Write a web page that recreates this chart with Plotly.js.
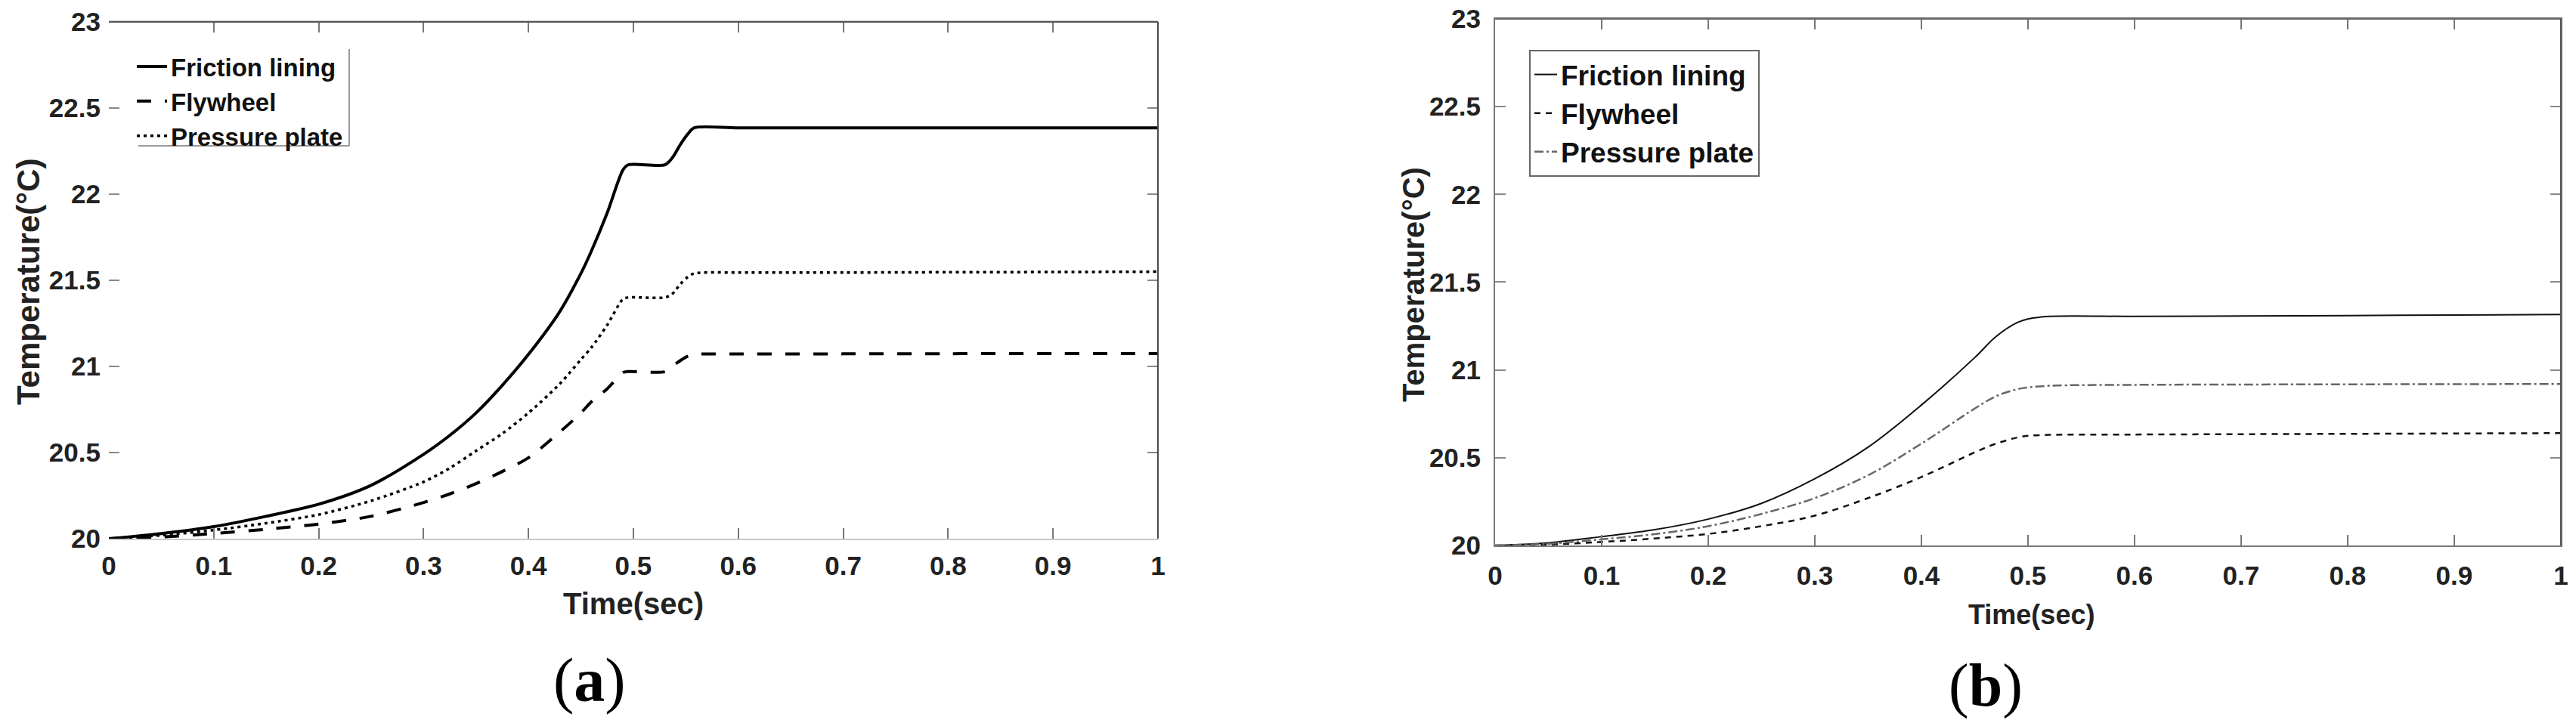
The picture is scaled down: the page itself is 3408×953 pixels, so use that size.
<!DOCTYPE html>
<html>
<head>
<meta charset="utf-8">
<script src="https://cdn.plot.ly/plotly-3.0.1.min.js"></script>
<style>
  html, body { margin: 0; padding: 0; background: #fff; }
  #myDiv { width: 3408px; height: 953px; }
</style>
</head>
<body>
<div id="myDiv"></div>
<script>
// (a) readings
var timeA = [0, 0.05, 0.1, 0.15, 0.2, 0.25, 0.3, 0.325, 0.35, 0.375, 0.4, 0.43, 0.45, 0.46, 0.475, 0.49, 0.495, 0.53, 0.537, 0.545, 0.552, 0.558, 0.6, 0.7, 0.8, 0.9, 1.0];
var frictionA = [20.00, 20.03, 20.07, 20.13, 20.20, 20.31, 20.49, 20.60, 20.73, 20.89, 21.07, 21.32, 21.54, 21.67, 21.89, 22.14, 22.17, 22.17, 22.21, 22.29, 22.35, 22.385, 22.385, 22.385, 22.385, 22.385, 22.385];
var flywheelA = [20.00, 20.01, 20.03, 20.055, 20.085, 20.13, 20.21, 20.26, 20.32, 20.39, 20.47, 20.62, 20.73, 20.795, 20.87, 20.965, 20.97, 20.97, 21.00, 21.035, 21.06, 21.07, 21.072, 21.073, 21.074, 21.075, 21.075];
var pressureA = [20.00, 20.02, 20.05, 20.09, 20.14, 20.22, 20.33, 20.41, 20.51, 20.61, 20.73, 20.90, 21.04, 21.11, 21.24, 21.39, 21.40, 21.40, 21.42, 21.48, 21.52, 21.54, 21.545, 21.545, 21.547, 21.548, 21.55];

// (b) readings
var timeB = [0, 0.05, 0.1, 0.15, 0.2, 0.25, 0.3, 0.35, 0.4, 0.45, 0.47, 0.49, 0.5, 0.52, 0.6, 0.7, 0.8, 0.9, 1.0];
var frictionB = [20.00, 20.015, 20.05, 20.09, 20.15, 20.24, 20.38, 20.56, 20.80, 21.07, 21.19, 21.27, 21.29, 21.305, 21.305, 21.307, 21.31, 21.313, 21.316];
var flywheelB = [20.00, 20.005, 20.02, 20.04, 20.066, 20.11, 20.17, 20.27, 20.39, 20.53, 20.58, 20.615, 20.625, 20.63, 20.632, 20.634, 20.636, 20.638, 20.64];
var pressureB = [20.00, 20.01, 20.035, 20.065, 20.11, 20.18, 20.27, 20.40, 20.58, 20.78, 20.85, 20.89, 20.90, 20.91, 20.915, 20.917, 20.918, 20.919, 20.92];

var names = ['Friction lining', 'Flywheel', 'Pressure plate'];
var xTicks = [0, 0.1, 0.2, 0.3, 0.4, 0.5, 0.6, 0.7, 0.8, 0.9, 1];
var yTicks = [20, 20.5, 21, 21.5, 22, 22.5, 23];

var font = 'Liberation Sans, Arial, sans-serif';

var data = [
  {x: timeA, y: frictionA, name: names[0], type: 'scatter', mode: 'lines',
   line: {color: '#000', width: 4, shape: 'spline', smoothing: 0.8}, xaxis: 'x', yaxis: 'y', legend: 'legend'},
  {x: timeA, y: flywheelA, name: names[1], type: 'scatter', mode: 'lines',
   line: {color: '#000', width: 4, dash: '19px,18px', shape: 'spline', smoothing: 0.8}, xaxis: 'x', yaxis: 'y', legend: 'legend'},
  {x: timeA, y: pressureA, name: names[2], type: 'scatter', mode: 'lines',
   line: {color: '#000', width: 3.5, dash: '4px,5px', shape: 'spline', smoothing: 0.8}, xaxis: 'x', yaxis: 'y', legend: 'legend'},
  {x: timeB, y: frictionB, name: names[0], type: 'scatter', mode: 'lines',
   line: {color: '#111', width: 2, shape: 'spline', smoothing: 1}, xaxis: 'x2', yaxis: 'y2', legend: 'legend2'},
  {x: timeB, y: flywheelB, name: names[1], type: 'scatter', mode: 'lines',
   line: {color: '#111', width: 2.5, dash: '8px,7px', shape: 'spline', smoothing: 1}, xaxis: 'x2', yaxis: 'y2', legend: 'legend2'},
  {x: timeB, y: pressureB, name: names[2], type: 'scatter', mode: 'lines',
   line: {color: '#666', width: 2.5, dash: '12px,4px,3px,4px', shape: 'spline', smoothing: 1}, xaxis: 'x2', yaxis: 'y2', legend: 'legend2'}
];

function xAxis(domain, anchor, lineColor, standoff) {
  return {
    domain: domain, anchor: anchor, range: [0, 1], tickvals: xTicks,
    showline: true, linecolor: lineColor, linewidth: 2, mirror: 'ticks',
    ticks: 'inside', ticklen: 14, tickwidth: 2, tickcolor: '#777',
    ticklabelstandoff: standoff, zeroline: false, showgrid: false, fixedrange: true,
    tickfont: {family: font, size: 35, color: '#222', weight: 'bold'}
  };
}
function yAxis(domain, anchor, showLine) {
  return {
    domain: domain, anchor: anchor, range: [20, 23], tickvals: yTicks,
    showline: showLine, linecolor: '#777', linewidth: 2, mirror: 'ticks',
    ticks: 'inside', ticklen: 14, tickwidth: 2, tickcolor: '#888',
    ticklabelstandoff: 10, zeroline: false, showgrid: false, fixedrange: true,
    tickfont: {family: font, size: 35, color: '#222', weight: 'bold'}
  };
}

var layout = {
  width: 3408, height: 953,
  margin: {l: 0, r: 0, t: 0, b: 0},
  paper_bgcolor: '#fff', plot_bgcolor: '#fff',
  showlegend: true,
  xaxis: xAxis([0.04225, 0.4495], 'y', '#c8c8c8', 4),
  yaxis: yAxis([0.2518, 0.9696], 'x', false),
  xaxis2: xAxis([0.5804, 0.9941], 'y2', '#777', 8),
  yaxis2: yAxis([0.2424, 0.9738], 'x2', true),
  legend: {
    x: 176 / 3408, y: 1 - 60 / 953, xanchor: 'left', yanchor: 'top',
    bgcolor: 'rgba(255,255,255,0)', borderwidth: 0, itemwidth: 40,
    font: {family: font, size: 33, color: '#111', weight: 'bold'}
  },
  legend2: {
    x: 2023 / 3408, y: 1 - 66 / 953, xanchor: 'left', yanchor: 'top',
    bgcolor: '#fff', bordercolor: '#666', borderwidth: 2, itemwidth: 30,
    font: {family: font, size: 37, color: '#111', weight: 'bold'}
  },
  shapes: [
    // (a) box: dark top and right edges, left edge not drawn
    {type: 'line', xref: 'x domain', yref: 'y domain', x0: 0, x1: 1, y0: 1, y1: 1, line: {color: '#555', width: 2}},
    {type: 'line', xref: 'x domain', yref: 'y domain', x0: 1, x1: 1, y0: 0, y1: 1, line: {color: '#444', width: 2}},
    // (a) legend frame, only right and bottom edges visible
    {type: 'line', xref: 'paper', yref: 'paper', x0: 462 / 3408, x1: 462 / 3408, y0: 1 - 65 / 953, y1: 1 - 193 / 953, line: {color: '#999', width: 2}},
    {type: 'line', xref: 'paper', yref: 'paper', x0: 183 / 3408, x1: 462 / 3408, y0: 1 - 193 / 953, y1: 1 - 193 / 953, line: {color: '#999', width: 2}},
    // (b) box
    {type: 'line', xref: 'x2 domain', yref: 'y2 domain', x0: 0, x1: 1, y0: 1, y1: 1, line: {color: '#666', width: 2}},
    {type: 'line', xref: 'x2 domain', yref: 'y2 domain', x0: 1, x1: 1, y0: 0, y1: 1, line: {color: '#555', width: 2}}
  ],
  annotations: [
    {text: 'Time(sec)', xref: 'paper', yref: 'paper', x: 838 / 3408, y: 1 - 799 / 953, xanchor: 'center', yanchor: 'middle', showarrow: false,
     font: {family: font, size: 40, color: '#222', weight: 'bold'}},
    {text: 'Time(sec)', xref: 'paper', yref: 'paper', x: 2687 / 3408, y: 1 - 813 / 953, xanchor: 'center', yanchor: 'middle', showarrow: false,
     font: {family: font, size: 36, color: '#222', weight: 'bold'}},
    {text: 'Temperature(°C)', xref: 'paper', yref: 'paper', x: 37 / 3408, y: 1 - 373 / 953, xanchor: 'center', yanchor: 'middle', showarrow: false, textangle: -90,
     font: {family: font, size: 42, color: '#222', weight: 'bold'}},
    {text: 'Temperature(°C)', xref: 'paper', yref: 'paper', x: 1870 / 3408, y: 1 - 376 / 953, xanchor: 'center', yanchor: 'middle', showarrow: false, textangle: -90,
     font: {family: font, size: 40, color: '#222', weight: 'bold'}},
    {text: '(<b>a</b>)', xref: 'paper', yref: 'paper', x: 780 / 3408, y: 1 - 900 / 953, xanchor: 'center', yanchor: 'middle', showarrow: false,
     font: {family: 'Liberation Serif, Times New Roman, serif', size: 82, color: '#000'}},
    {text: '(<b>b</b>)', xref: 'paper', yref: 'paper', x: 2627 / 3408, y: 1 - 907 / 953, xanchor: 'center', yanchor: 'middle', showarrow: false,
     font: {family: 'Liberation Serif, Times New Roman, serif', size: 80, color: '#000'}}
  ]
};

Plotly.newPlot('myDiv', data, layout, {staticPlot: true});
</script>
</body>
</html>
